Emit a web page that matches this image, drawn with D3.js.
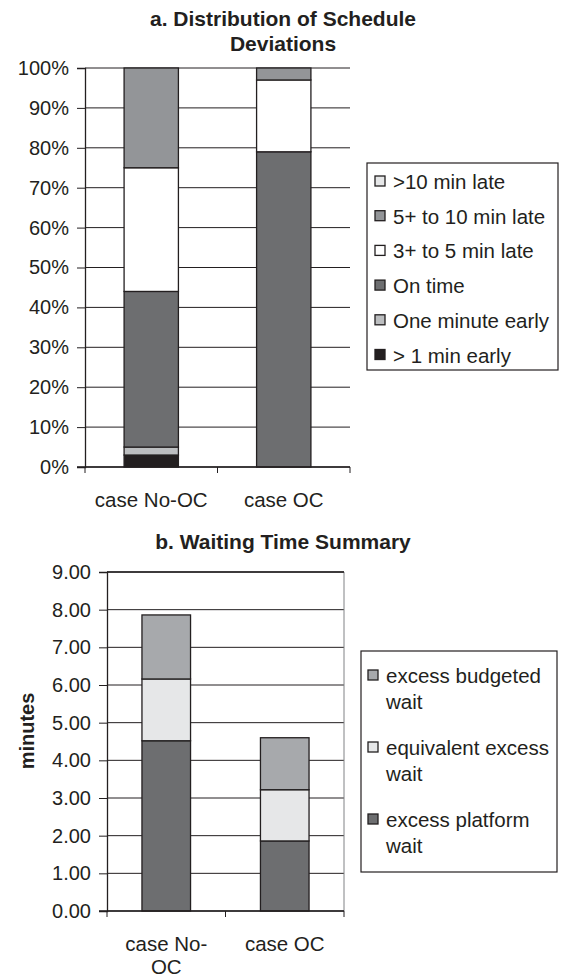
<!DOCTYPE html>
<html>
<head>
<meta charset="utf-8">
<script src="https://cdn.jsdelivr.net/npm/d3@7"></script>
<style>
  body { margin: 0; background: #fff; }
  text { font-family: "Liberation Sans", Arial, Helvetica, sans-serif; fill: #231f20; }
</style>
</head>
<body>
<div id="chart"></div>
<script>
// ---- data ----
const categories = ['case No-OC', 'case OC'];

// a. distribution of schedule deviations (%), legend order top to bottom
const deviationKeys = ['>10 min late', '5+ to 10 min late', '3+ to 5 min late', 'On time', 'One minute early', '> 1 min early'];
const lateOver10 = [0, 0];
const late5to10 = [25, 3];
const late3to5 = [31, 18];
const onTime = [39, 79];
const oneMinEarly = [2, 0];
const overOneEarly = [3, 0];
const pctTicks = [0, 10, 20, 30, 40, 50, 60, 70, 80, 90, 100];

// b. waiting time summary (minutes)
const waitKeys = ['excess budgeted wait', 'equivalent excess wait', 'excess platform wait'];
const budgetedWait = [1.70, 1.38];
const equivalentWait = [1.64, 1.36];
const platformWait = [4.52, 1.86];
const minuteTicks = [0, 1, 2, 3, 4, 5, 6, 7, 8, 9];

const width = 563, height = 978;
const ink = '#231f20';

const svg = d3.select('#chart')
  .append('svg')
  .attr('width', width)
  .attr('height', height);

// stacks are built bottom-up, legends list top-down
function stackRows(keys, arrays) {
  return categories.map((c, i) => {
    const row = { cat: c };
    keys.forEach((k, j) => { row[k] = arrays[j][i]; });
    return row;
  });
}

function drawPanel(opts) {
  const g = svg.append('g');
  const x = d3.scaleBand()
    .domain(categories)
    .range([opts.left, opts.right])
    .paddingInner(0.59)
    .paddingOuter(0.295);
  const y = d3.scaleLinear()
    .domain(opts.domain)
    .range([opts.bottom, opts.top]);

  // gridlines
  g.append('g')
    .selectAll('line')
    .data(opts.ticks)
    .join('line')
    .attr('x1', opts.left)
    .attr('x2', opts.right)
    .attr('y1', d => y(d))
    .attr('y2', d => y(d))
    .attr('stroke', ink)
    .attr('stroke-width', 1);

  if (opts.box) {
    g.append('line')
      .attr('x1', opts.right).attr('x2', opts.right)
      .attr('y1', opts.top).attr('y2', opts.bottom)
      .attr('stroke', '#808285').attr('stroke-width', 1);
    g.append('line')
      .attr('x1', opts.left).attr('x2', opts.right)
      .attr('y1', opts.top).attr('y2', opts.top)
      .attr('stroke', ink).attr('stroke-width', 1.5);
  }

  // bars
  const series = d3.stack().keys(opts.stackKeys)(stackRows(opts.stackKeys, opts.stackValues));
  g.append('g')
    .selectAll('g')
    .data(series)
    .join('g')
    .attr('fill', d => opts.color(d.key))
    .selectAll('rect')
    .data(d => d.filter(s => s[1] - s[0] > 0))
    .join('rect')
    .attr('x', d => x(d.data.cat))
    .attr('width', x.bandwidth())
    .attr('y', d => y(d[1]))
    .attr('height', d => y(d[0]) - y(d[1]))
    .attr('stroke', ink)
    .attr('stroke-width', 1.3);

  // y axis
  const yAxis = g.append('g')
    .attr('transform', `translate(${opts.left},0)`)
    .call(d3.axisLeft(y).tickValues(opts.ticks).tickSize(8).tickPadding(8).tickFormat(opts.format));
  yAxis.select('.domain').attr('stroke', ink).attr('stroke-width', 1.3);
  yAxis.selectAll('.tick line').attr('stroke', ink);
  yAxis.selectAll('.tick text')
    .attr('font-size', 20)
    .attr('font-family', null)
    .attr('fill', ink);

  // x axis
  const xAxis = g.append('g')
    .attr('transform', `translate(0,${opts.bottom})`)
    .call(d3.axisBottom(x).tickSize(0).tickPadding(0).tickFormat(''));
  xAxis.select('.domain').remove();
  xAxis.append('line')
    .attr('x1', opts.left - 8).attr('x2', opts.right)
    .attr('stroke', ink).attr('stroke-width', 1.3);
  const edges = [opts.left].concat(categories.map(c => x(c) + x.bandwidth() / 2 + x.step() / 2));
  xAxis.selectAll('line.sep')
    .data(edges)
    .join('line')
    .attr('class', 'sep')
    .attr('x1', d => d).attr('x2', d => d)
    .attr('y1', 0).attr('y2', 6)
    .attr('stroke', ink);
  const labels = xAxis.selectAll('text.cat')
    .data(categories)
    .join('text')
    .attr('class', 'cat')
    .attr('text-anchor', 'middle')
    .attr('font-size', 20.5)
    .attr('x', d => x(d) + x.bandwidth() / 2)
    .attr('y', opts.labelDy);
  labels.each(function (d) {
    const t = d3.select(this);
    const lines = opts.wrap && d.indexOf('-') > 0 ? [d.slice(0, d.indexOf('-') + 1), d.slice(d.indexOf('-') + 1)] : [d];
    lines.forEach((ln, i) => {
      t.append('tspan')
        .attr('x', x(d) + x.bandwidth() / 2)
        .attr('dy', i === 0 ? 0 : 23)
        .text(ln);
    });
  });

  // title
  opts.title.forEach((ln, i) => {
    svg.append('text')
      .attr('x', 283)
      .attr('y', opts.titleY + i * 25)
      .attr('text-anchor', 'middle')
      .attr('font-size', 21)
      .attr('font-weight', 'bold')
      .text(ln);
  });

  // legend
  const lg = svg.append('g');
  lg.append('rect')
    .attr('x', opts.legend.x)
    .attr('y', opts.legend.y)
    .attr('width', opts.legend.w)
    .attr('height', opts.legend.h)
    .attr('fill', '#fff')
    .attr('stroke', ink)
    .attr('stroke-width', 1.2);
  const item = lg.selectAll('g.item')
    .data(opts.legendKeys)
    .join('g')
    .attr('class', 'item')
    .attr('transform', (d, i) => `translate(${opts.legend.x + opts.legend.padX},${opts.legend.y + opts.legend.first + i * opts.legend.step})`);
  item.append('rect')
    .attr('x', 0)
    .attr('y', -13)
    .attr('width', 10)
    .attr('height', 10)
    .attr('fill', d => opts.color(d))
    .attr('stroke', ink)
    .attr('stroke-width', 1.3);
  item.each(function (d) {
    const t = d3.select(this).append('text')
      .attr('x', 18)
      .attr('font-size', 20.5);
    const lines = opts.legend.lines(d);
    lines.forEach((ln, i) => {
      t.append('tspan').attr('x', 18).attr('dy', i === 0 ? 0 : 26).text(ln);
    });
  });
  return g;
}

// ---- panel a ----
const colorA = d3.scaleOrdinal()
  .domain(deviationKeys)
  .range(['#e6e7e8', '#939598', '#ffffff', '#6d6e70', '#bcbec0', '#231f20']);

drawPanel({
  left: 85, right: 350, top: 68, bottom: 467,
  domain: [0, 100],
  ticks: pctTicks,
  format: d => d + '%',
  stackKeys: deviationKeys.slice().reverse(),
  stackValues: [overOneEarly, oneMinEarly, onTime, late3to5, late5to10, lateOver10],
  color: colorA,
  labelDy: 40,
  title: ['a. Distribution of Schedule', 'Deviations'],
  titleY: 26,
  legend: { x: 367, y: 163, w: 191, h: 207, padX: 8, first: 26, step: 34.7, lines: d => [d] },
  legendKeys: deviationKeys
});

// ---- panel b ----
const colorB = d3.scaleOrdinal()
  .domain(waitKeys)
  .range(['#a7a9ac', '#e6e7e8', '#6d6e70']);

drawPanel({
  left: 107, right: 344, top: 572, bottom: 911,
  domain: [0, 9],
  ticks: minuteTicks,
  format: d3.format('.2f'),
  box: true,
  stackKeys: waitKeys.slice().reverse(),
  stackValues: [platformWait, equivalentWait, budgetedWait],
  color: colorB,
  labelDy: 40,
  wrap: true,
  title: ['b. Waiting Time Summary'],
  titleY: 549,
  legend: {
    x: 361, y: 651, w: 196, h: 221, padX: 7, first: 32, step: 72,
    lines: d => { const p = d.lastIndexOf(' '); return [d.slice(0, p), d.slice(p + 1)]; }
  },
  legendKeys: waitKeys
});

svg.append('text')
  .attr('transform', 'translate(34,731) rotate(-90)')
  .attr('text-anchor', 'middle')
  .attr('font-size', 20)
  .attr('font-weight', 'bold')
  .text('minutes');
</script>
</body>
</html>
